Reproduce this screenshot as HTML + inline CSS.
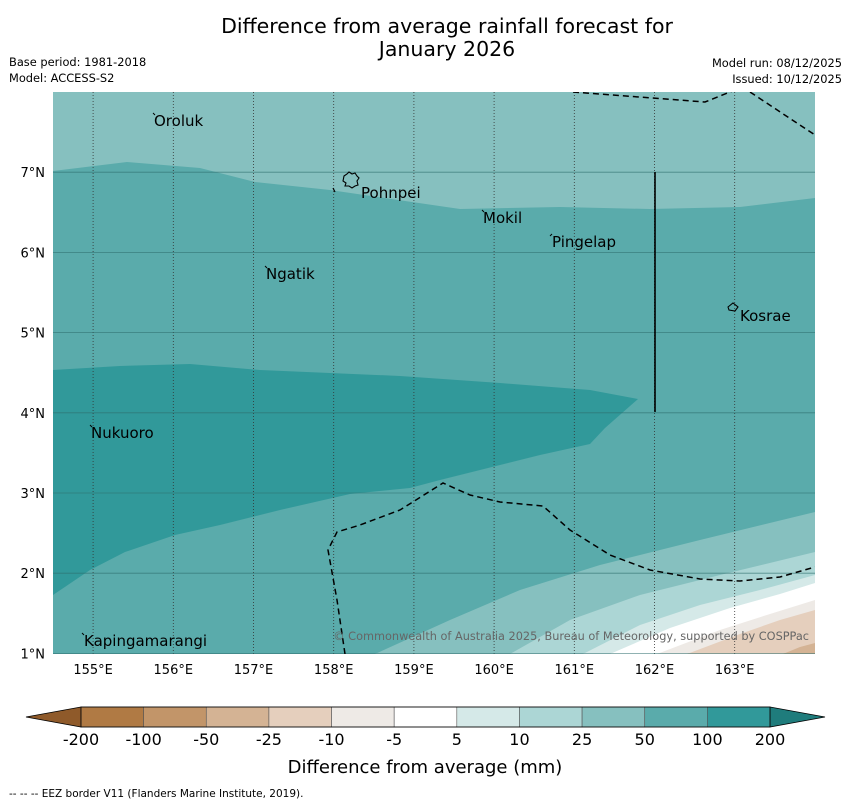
<!DOCTYPE html>
<html><head><meta charset="utf-8">
<style>
body{margin:0;background:#fff;width:850px;height:804px;overflow:hidden;font-family:"DejaVu Sans","Liberation Sans",sans-serif;}
svg{display:block}
</style></head>
<body>
<svg id="chart" width="850" height="804" xmlns="http://www.w3.org/2000/svg">
<text x="447" y="33" font-size="20.5" text-anchor="middle">Difference from average rainfall forecast for</text>
<text x="447" y="56" font-size="20.5" text-anchor="middle">January 2026</text>
<text x="9" y="66" font-size="11.4">Base period: 1981-2018</text>
<text x="9" y="82" font-size="11.4">Model: ACCESS-S2</text>
<text x="842" y="67" font-size="11.4" text-anchor="end">Model run: 08/12/2025</text>
<text x="842" y="83" font-size="11.4" text-anchor="end">Issued: 10/12/2025</text>
<defs><clipPath id="mapclip"><rect x="53" y="92" width="762" height="562"/></clipPath></defs>
<g id="map" clip-path="url(#mapclip)">
<rect x="53" y="92" width="762" height="562" fill="#5aabab"/>
<path d="M53,92 L815,92 L815,198 L740,207 L650,209 L560,207 L460,209 L330,190 L255,182 L200,168 L127,162 L53,171 Z" fill="#86c0bf"/>
<path d="M53,370 L120,366 L190,364 L260,370 L400,376 L500,383 L590,390 L638,399 L605,428 L590,444 L540,455 L440,480 L410,488 L350,494 L280,510 L220,525 L175,535 L125,552 L90,570 L53,595 Z" fill="#31999a"/>
<path d="M375,654 L450,620 L520,590 L600,565 L700,540 L815,512 L815,654 Z" fill="#86c0bf"/>
<path d="M510,654 L570,620 L640,595 L720,575 L815,552 L815,654 Z" fill="#acd6d5"/>
<path d="M583,654 L640,625 L700,605 L760,590 L815,575 L815,654 Z" fill="#d5e9e8"/>
<path d="M610,654 L670,628 L730,608 L780,594 L815,583 L815,654 Z" fill="#ffffff"/>
<path d="M657,654 L720,630 L770,614 L815,600 L815,654 Z" fill="#eeeae6"/>
<path d="M687,654 L740,634 L780,620 L815,610 L815,654 Z" fill="#e5cfbd"/>
<path d="M783,654 L800,647 L815,643 L815,654 Z" fill="#d4b394"/>
<g id="grid"></g>
<path d="M573,92 L705,102 L735,90 M750,92 L815,135" fill="none" stroke="#000" stroke-width="1.5" stroke-dasharray="6,4"/>
<path d="M345,654 L337,600 L328,550 L337,532 L360,525 L400,510 L443,483 L470,495 L500,502 L543,506 L570,530 L610,555 L650,570 L700,579 L740,581 L780,577 L815,567" fill="none" stroke="#000" stroke-width="1.5" stroke-dasharray="6,4"/>
<path d="M333,188 L335,192" stroke="#000" stroke-width="1.2"/>
<line x1="655" y1="172" x2="655" y2="412" stroke="#000" stroke-width="1.6"/>
<path d="M344,176 L347,174 L349,172 L352,174 L355,173 L357,176 L359,178 L357,181 L358,185 L355,186 L352,188 L349,186 L345,186 L346,183 L343,181 Z" fill="none" stroke="#000" stroke-width="1.1"/>
<path d="M728,307 L733,303 L738,307 L735,311 L729,310 Z" fill="none" stroke="#000" stroke-width="1.1"/>
<g stroke="#000" stroke-width="1">
<line x1="153" y1="113" x2="155" y2="115"/><line x1="482" y1="210" x2="484" y2="212"/><line x1="550" y1="236" x2="552" y2="234"/><line x1="265" y1="266" x2="267" y2="268"/><line x1="90" y1="425" x2="92" y2="427"/><line x1="82" y1="633" x2="84" y2="635"/>
</g>
<g font-size="15" fill="#000">
<text x="154" y="126">Oroluk</text>
<text x="361" y="198">Pohnpei</text>
<text x="483" y="223">Mokil</text>
<text x="552" y="247">Pingelap</text>
<text x="266" y="279">Ngatik</text>
<text x="740" y="321">Kosrae</text>
<text x="91" y="438">Nukuoro</text>
<text x="84" y="646">Kapingamarangi</text>
</g>
<text x="809" y="640" font-size="11.3" fill="#666" text-anchor="end">© Commonwealth of Australia 2025, Bureau of Meteorology, supported by COSPPac</text>
</g>
<g id="axes"></g>
<g id="cbar"></g>
<text x="425" y="773" font-size="18" text-anchor="middle">Difference from average (mm)</text>
<text x="9" y="797" font-size="10.5">--  --  -- EEZ border V11 (Flanders Marine Institute, 2019).</text>
</svg>
<script>
const lonTicks=[155,156,157,158,159,160,161,162,163];
const latTicks=[1,2,3,4,5,6,7];
const levelLabels=["-200","-100","-50","-25","-10","-5","5","10","25","50","100","200"];
const levelColors=["#b07a44","#c29569","#d4b394","#e5cfbd","#eeeae6","#ffffff","#d5e9e8","#acd6d5","#86c0bf","#5aabab","#31999a"];
const NS="http://www.w3.org/2000/svg";
function lonX(l){return 53+(l-154.5)*80.2;}
function latY(l){return 92+(8-l)*80.2;}
function mk(t,a,p){const e=document.createElementNS(NS,t);for(const k in a)e.setAttribute(k,a[k]);p.appendChild(e);return e;}
const grid=document.getElementById('grid'),axes=document.getElementById('axes'),cb=document.getElementById('cbar');
lonTicks.forEach(l=>{const x=lonX(l);
const g=mk('line',{x1:x,x2:x,y1:92,y2:654,stroke:'#333','stroke-width':0.8,'stroke-dasharray':'1,2'},grid);


const t=mk('text',{x:x,y:674,'font-size':13,'text-anchor':'middle'},axes);t.textContent=l+'°E';

});
latTicks.forEach(l=>{const y=latY(l);
const g=mk('line',{x1:53,x2:815,y1:y,y2:y,stroke:'#2e6e6e','stroke-width':0.8,opacity:0.7},grid);


const t=mk('text',{x:45,y:y+5,'font-size':13,'text-anchor':'end'},axes);t.textContent=l+'°N';

});
const cx0=81,cx1=770,cy=707,ch=20,w=(cx1-cx0)/levelColors.length;
const lt=mk('path',{d:`M${cx0},${cy} L26,${cy+ch/2} L${cx0},${cy+ch} Z`,fill:'#8f5a2a',stroke:'#000','stroke-width':0.8},cb);


const rt=mk('path',{d:`M${cx1},${cy} L825,${cy+ch/2} L${cx1},${cy+ch} Z`,fill:'#1f7c7c',stroke:'#000','stroke-width':0.8},cb);


levelColors.forEach((c,i)=>{const r=mk('rect',{x:cx0+i*w,y:cy,width:w,height:ch,fill:c,stroke:'#555','stroke-width':0.6},cb);

});
mk('rect',{x:cx0,y:cy,width:cx1-cx0,height:ch,fill:'none',stroke:'#000','stroke-width':0.8},cb);
levelLabels.forEach((s,i)=>{const t=mk('text',{x:cx0+i*w,y:745,'font-size':16,'text-anchor':'middle'},cb);t.textContent=s;

});
</script>
</body></html>
